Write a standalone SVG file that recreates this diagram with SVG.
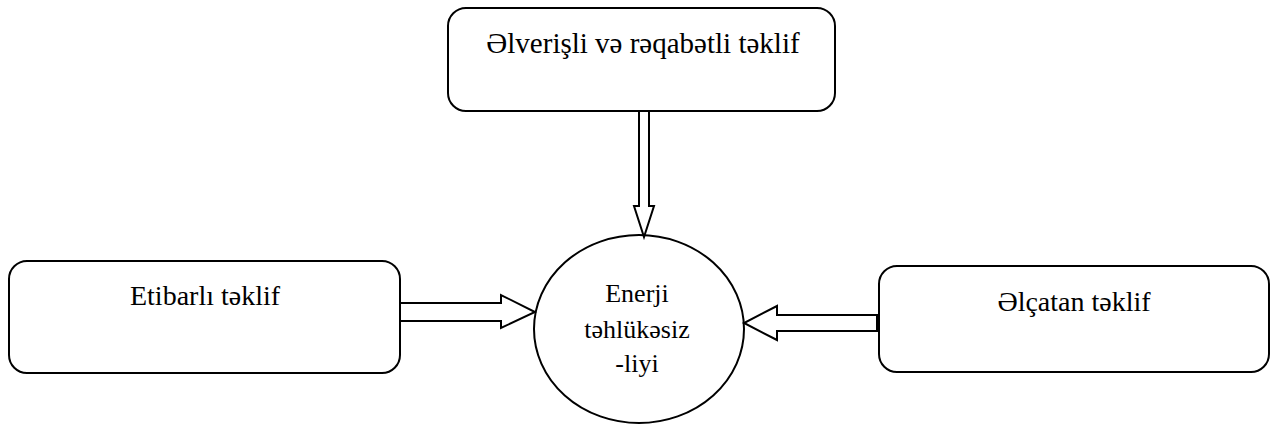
<svg xmlns="http://www.w3.org/2000/svg" width="1271" height="425" viewBox="0 0 1271 425">
<style>
.box{fill:#fff;stroke:#000;stroke-width:2}
.arrow{fill:#fff;stroke:#000;stroke-width:2;stroke-linejoin:miter}
text{font-family:'Liberation Serif','DejaVu Serif',serif;fill:#000;text-anchor:middle}
</style>
<rect width="1271" height="425" fill="#fff"/>
<g id="node-top">
<rect class="box" x="448" y="8" width="387" height="103" rx="18"/>
<text x="643" y="53" font-size="29">Əlverişli və rəqabətli təklif</text>
</g>
<g id="node-left">
<rect class="box" x="9" y="261" width="391" height="112" rx="18"/>
<text x="205" y="305" font-size="28">Etibarlı təklif</text>
</g>
<g id="node-right">
<rect class="box" x="879" y="266" width="390" height="106" rx="18"/>
<text x="1074" y="311" font-size="28">Əlçatan təklif</text>
</g>
<g id="node-center">
<ellipse class="box" cx="639" cy="329" rx="105" ry="94"/>
<text font-size="26"><tspan x="637" y="302">Enerji</tspan><tspan x="637" y="338">təhlükəsiz</tspan><tspan x="637" y="372">-liyi</tspan></text>
</g>
<g id="connectors">
<polygon class="arrow" points="639,111 649,111 649,206 654,206 644,237 634,206 639,206"/>
<polygon class="arrow" points="400,303 501,303 501,295 535,312 501,328 501,321 400,321"/>
<polygon class="arrow" points="877,315 777,315 777,306 744,323 777,340 777,331 877,331"/>
</g>
</svg>
